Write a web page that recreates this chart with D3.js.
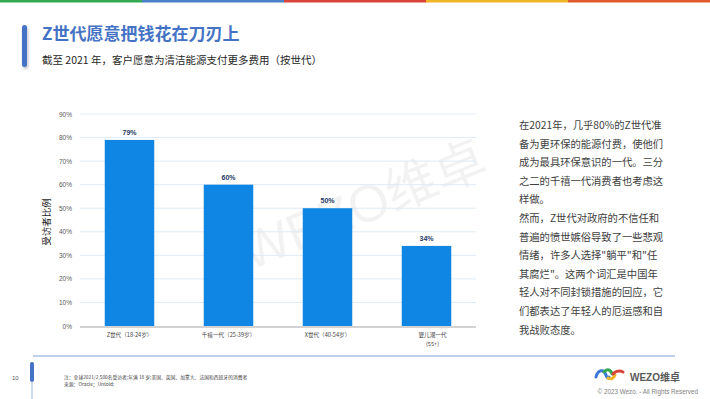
<!DOCTYPE html>
<html>
<head>
<meta charset="utf-8">
<script src="https://cdn.jsdelivr.net/npm/d3@7/dist/d3.min.js"></script>
<style>
  html, body { margin: 0; padding: 0; background: #fff; }
  svg { display: block; font-family: "Noto Sans CJK SC", "Liberation Sans", sans-serif; }
</style>
</head>
<body>
<svg id="slide"></svg>
<script>
const categories = ["Z世代（18-24岁）", "千禧一代（25-39岁）", "X世代（40-54岁）", "婴儿潮一代|(55+)"];
const values = [79, 60, 50, 34];
const yTicks = [0, 10, 20, 30, 40, 50, 60, 70, 80, 90];
const stripeColors = ["#34a853", "#4a7fc9", "#d9443a", "#f0b428", "#e05a2b"];
const noteLines = [
  "在2021年，几乎80%的Z世代准",
  "备为更环保的能源付费，使他们",
  "成为最具环保意识的一代。三分",
  "之二的千禧一代消费者也考虑这",
  "样做。",
  "然而，Z世代对政府的不信任和",
  "普遍的愤世嫉俗导致了一些悲观",
  "情绪，许多人选择\"躺平\"和\"任",
  "其腐烂\"。这两个词汇是中国年",
  "轻人对不同封锁措施的回应，它",
  "们都表达了年轻人的厄运感和自",
  "我战败态度。"
];

const width = 710, height = 399;
const svg = d3.select("#slide").attr("width", width).attr("height", height);

// top colour stripe
const stripe = d3.scaleBand().domain(d3.range(stripeColors.length)).range([0, width]);
svg.selectAll(".stripe")
  .data(stripeColors)
  .enter()
  .append("rect")
  .attr("x", (d, i) => stripe(i))
  .attr("y", 0)
  .attr("width", stripe.bandwidth() + 0.5)
  .attr("height", 2.5)
  .attr("fill", d => d);

// title block
const defs = svg.append("defs");
const sh = defs.append("filter").attr("id", "shadow").attr("x", "-100%").attr("y", "-20%").attr("width", "300%").attr("height", "150%");
sh.append("feDropShadow").attr("dx", 1).attr("dy", 2).attr("stdDeviation", 1.5).attr("flood-color", "#000").attr("flood-opacity", 0.25);

svg.append("rect")
  .attr("x", 22).attr("y", 25).attr("width", 5).attr("height", 42)
  .attr("rx", 2.5).attr("fill", "#4472c4").attr("filter", "url(#shadow)");

svg.append("text")
  .attr("x", 42).attr("y", 40)
  .attr("font-size", 17).attr("font-weight", "bold").attr("fill", "#4472c4")
  .text("Z世代愿意把钱花在刀刃上");

svg.append("text")
  .attr("x", 42).attr("y", 64)
  .attr("font-size", 10.5).attr("fill", "#262626")
  .text("截至 2021 年，客户愿意为清洁能源支付更多费用（按世代）");

// watermark
svg.append("text")
  .attr("transform", "translate(370,222) rotate(-22)")
  .attr("text-anchor", "middle")
  .attr("font-size", 52)
  .attr("fill", "#000").attr("fill-opacity", 0.05)
  .attr("font-family", "Liberation Sans, Noto Sans CJK SC, sans-serif")
  .text("WEZO维卓");

// chart
const x = d3.scaleBand().domain(categories).range([80, 476]).paddingInner(0.5).paddingOuter(0.25);
const y = d3.scaleLinear().domain([0, 90]).range([326, 114]);

const grid = svg.append("g");
grid.selectAll("line")
  .data(yTicks.slice(1))
  .enter()
  .append("line")
  .attr("x1", 80).attr("x2", 476)
  .attr("y1", d => y(d)).attr("y2", d => y(d))
  .attr("stroke", "#deebf7").attr("stroke-width", 1);

const yAxis = svg.append("g")
  .attr("transform", "translate(76,0)")
  .call(d3.axisLeft(y).tickValues(yTicks).tickFormat(d => d + "%").tickSize(0).tickPadding(4));
yAxis.select(".domain").remove();
yAxis.selectAll("text").attr("font-size", 6.5).attr("fill", "#595959")
  .attr("font-family", "Liberation Sans, sans-serif");

svg.selectAll(".bar")
  .data(values)
  .enter()
  .append("rect")
  .attr("class", "bar")
  .attr("x", (d, i) => x(categories[i]))
  .attr("y", d => y(d))
  .attr("width", x.bandwidth())
  .attr("height", d => y(0) - y(d))
  .attr("fill", "#0f86e4");

svg.selectAll(".val")
  .data(values)
  .enter()
  .append("text")
  .attr("x", (d, i) => x(categories[i]) + x.bandwidth() / 2)
  .attr("y", d => y(d) - 5)
  .attr("text-anchor", "middle")
  .attr("font-size", 7).attr("font-weight", "bold").attr("fill", "#1f3864")
  .attr("font-family", "Liberation Sans, sans-serif")
  .text(d => d + "%");

svg.append("line")
  .attr("x1", 80).attr("x2", 476).attr("y1", 327).attr("y2", 327)
  .attr("stroke", "#a6a6a6").attr("stroke-width", 1);

// x labels, the last one wraps on two lines
categories.forEach((d, i) => {
  const cx = x(d) + x.bandwidth() / 2 + (i === 3 ? 6 : 0);
  d.split("|").forEach((p, j) => {
    svg.append("text")
      .attr("x", cx)
      .attr("y", 337 + j * 8.5)
      .attr("text-anchor", "middle")
      .attr("font-size", 5.6).attr("fill", "#404040")
      .text(p);
  });
});

svg.append("text")
  .attr("transform", "translate(50,222) rotate(-90)")
  .attr("text-anchor", "middle")
  .attr("font-size", 9.5).attr("fill", "#262626")
  .text("受访者比例");

// commentary
svg.append("g").selectAll("text")
  .data(noteLines)
  .enter()
  .append("text")
  .attr("x", 519)
  .attr("y", (d, i) => 129 + i * 18.6)
  .attr("font-size", 10.3).attr("fill", "#404040")
  .text(d => d);

// footer
svg.append("line")
  .attr("x1", 33).attr("x2", 675).attr("y1", 356).attr("y2", 356)
  .attr("stroke", "#7fa3dc").attr("stroke-width", 1);
svg.append("line")
  .attr("x1", 32).attr("x2", 32).attr("y1", 362).attr("y2", 399)
  .attr("stroke", "#9db8e4").attr("stroke-width", 1);
svg.append("rect")
  .attr("x", 30).attr("y", 362).attr("width", 4).attr("height", 20)
  .attr("rx", 2).attr("fill", "#4472c4");
svg.append("text")
  .attr("x", 12).attr("y", 380).attr("font-size", 6).attr("fill", "#595959")
  .attr("font-family", "Liberation Sans, sans-serif")
  .text("10");
svg.append("text")
  .attr("x", 64).attr("y", 379).attr("font-size", 4.8).attr("fill", "#404040")
  .text("注：全球2021/2,500名受访者;年满 18 岁;美国、英国、加拿大、法国和西班牙的消费者");
svg.append("text")
  .attr("x", 64).attr("y", 386).attr("font-size", 4.8).attr("fill", "#404040")
  .text("来源：Oracle；Untold;");

// logo
const logo = svg.append("g").attr("transform", "translate(596,369)");
logo.append("path").attr("d", "M0,8 C2,0 8,0 10,6 C11,9 12,10 13,8").attr("fill", "none").attr("stroke", "#3b78d8").attr("stroke-width", 3).attr("stroke-linecap", "round");
logo.append("path").attr("d", "M8,3 C11,-1 15,1 16,5").attr("fill", "none").attr("stroke", "#34a853").attr("stroke-width", 3).attr("stroke-linecap", "round");
logo.append("path").attr("d", "M12,9 C15,11 18,9 19,6").attr("fill", "none").attr("stroke", "#f0b428").attr("stroke-width", 3).attr("stroke-linecap", "round");
logo.append("path").attr("d", "M17,5 C20,1 25,2 27,3").attr("fill", "none").attr("stroke", "#d9443a").attr("stroke-width", 3).attr("stroke-linecap", "round");
svg.append("text")
  .attr("x", 630).attr("y", 381).attr("font-size", 10).attr("font-weight", "bold").attr("fill", "#595959")
  .attr("font-family", "Liberation Sans, Noto Sans CJK SC, sans-serif")
  .text("WEZO维卓");
svg.append("text")
  .attr("x", 698).attr("y", 394).attr("text-anchor", "end").attr("font-size", 6.3).attr("fill", "#7f7f7f")
  .attr("font-family", "Liberation Sans, sans-serif")
  .text("© 2023 Wezo. - All Rights Reserved");
</script>
</body>
</html>
